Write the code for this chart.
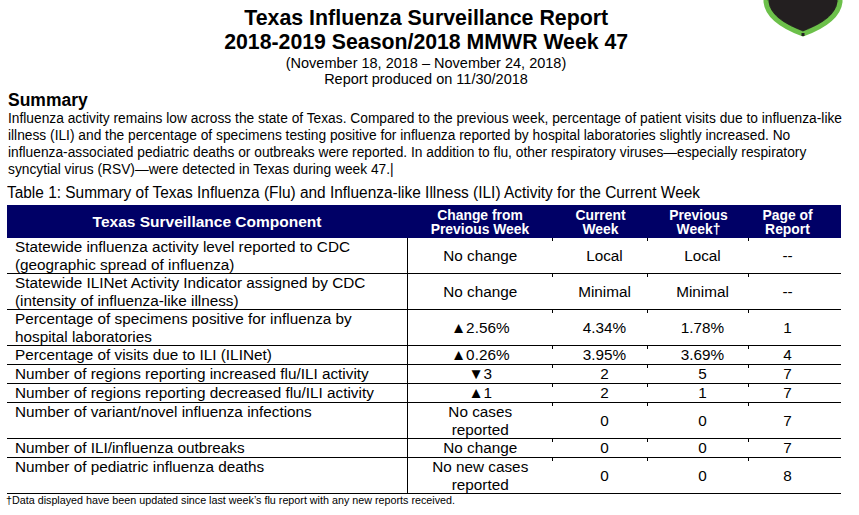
<!DOCTYPE html>
<html>
<head>
<meta charset="utf-8">
<script src="https://cdn.jsdelivr.net/npm/chart.js@4/dist/chart.umd.min.js"></script>
<style>
  html, body { margin: 0; padding: 0; background: #fff; }
  body { width: 859px; height: 515px; overflow: hidden; position: relative;
         font-family: "Liberation Sans", Arial, sans-serif; color: #000; }
  .ln { white-space: nowrap; }
  .ln span { display: inline-block; }
  #head { position: absolute; left: 0; top: 6px; width: 852px; text-align: center; }
  #head .t { font-weight: bold; font-size: 21.5px; line-height: 24px; }
  #head .s { font-size: 14.5px; line-height: 16px; }
  #summary { position: absolute; left: 8px; top: 91px; font-weight: bold; font-size: 17.5px; line-height: 18px; }
  #para { position: absolute; left: 8px; top: 110px; font-size: 14px; line-height: 17px; }
  #caption { position: absolute; left: 7px; top: 184px; font-size: 16px; line-height: 18px; }
  #tbl { position: absolute; left: 7px; top: 205px; border-collapse: collapse; table-layout: fixed; width: 834px; }
  #tbl th { background: #000066; color: #fff; font-weight: bold; font-size: 13.9px; line-height: 14px;
            height: 33px; padding: 0; text-align: center; vertical-align: middle; white-space: pre-line; }
  #tbl th.first { font-size: 15.5px; }
  #tbl th.last, #tbl td.last { padding-right: 15px; }
  #tbl td { font-size: 15.3px; line-height: 17.5px; padding: 0; text-align: center; vertical-align: middle;
            border-bottom: 1px solid #000; white-space: pre-line; position: relative; }
  #tbl td.comp { text-align: left; vertical-align: top; padding-left: 8px; border-right: 1px solid #000; }
  #tbl td.shift { padding-left: 8px; }
  #tbl td.tick::before { content: ""; position: absolute; left: -1px; top: 0; width: 1px; height: 3px; background: #000; }
  #foot { position: absolute; left: 6px; top: 494px; font-size: 11px; line-height: 13px; }
  #logo { position: absolute; left: 762px; top: 0; }
</style>
</head>
<body>
<svg id="logo" width="84" height="38" viewBox="0 0 84 38">
  <path d="M4,-10 L4,2 Q6,21 41,34 Q76,21 78,2 L78,-10 Z" fill="#231f20" stroke="#6cc04a" stroke-width="5"/>
  <path d="M6,0 Q9,19 41,31 Q73,19 76,0" fill="none" stroke="#2f5a1f" stroke-width="0.8" stroke-dasharray="1 5"/>
  <rect x="39.5" y="33" width="3" height="3" fill="#231f20"/>
</svg>

<div id="head">
  <div class="t ln"><span id="title1"></span></div>
  <div class="t ln"><span id="title2"></span></div>
  <div class="s ln" style="margin-top:1px"><span id="dates"></span></div>
  <div class="s ln"><span id="produced"></span></div>
</div>
<div id="summary">Summary</div>
<div id="para"></div>
<div id="caption" class="ln"><span id="captext"></span></div>

<table id="tbl">
  <colgroup>
    <col style="width:400px"><col style="width:146px"><col style="width:95px"><col style="width:101px"><col style="width:92px">
  </colgroup>
  <thead><tr id="hdr"></tr></thead>
  <tbody id="body"></tbody>
</table>
<div id="foot" class="ln"><span id="foottext"></span></div>

<script>
// report text
const titleLines = ['Texas Influenza Surveillance Report', '2018-2019 Season/2018 MMWR Week 47'];
const dateRange = '(November 18, 2018 \u2013 November 24, 2018)';
const producedOn = 'Report produced on 11/30/2018';
const summaryLines = [
  'Influenza activity remains low across the state of Texas. Compared to the previous week, percentage of patient visits due to influenza-like',
  'illness (ILI) and the percentage of specimens testing positive for influenza reported by hospital laboratories slightly increased. No',
  'influenza-associated pediatric deaths or outbreaks were reported. In addition to flu, other respiratory viruses\u2014especially respiratory',
  'syncytial virus (RSV)\u2014were detected in Texas during week 47.|'
];
const tableCaption = 'Table 1: Summary of Texas Influenza (Flu) and Influenza-like Illness (ILI) Activity for the Current Week';
const footnote = '\u2020Data displayed have been updated since last week\u2019s flu report with any new reports received.';

// table columns
const columnHeaders = ['Texas Surveillance Component', 'Change from\nPrevious Week', 'Current\nWeek', 'Previous\nWeek\u2020', 'Page of\nReport'];

// table rows
const components = [
  'Statewide influenza activity level reported to CDC\n(geographic spread of influenza)',
  'Statewide ILINet Activity Indicator assigned by CDC\n(intensity of influenza-like illness)',
  'Percentage of specimens positive for influenza by\nhospital laboratories',
  'Percentage of visits due to ILI (ILINet)',
  'Number of regions reporting increased flu/ILI activity',
  'Number of regions reporting decreased flu/ILI activity',
  'Number of variant/novel influenza infections',
  'Number of ILI/influenza outbreaks',
  'Number of pediatric influenza deaths'
];
const changeFromPrevious = ['No change', 'No change', '\u25B22.56%', '\u25B20.26%', '\u25BC3', '\u25B21',
  'No cases\nreported', 'No change', 'No new cases\nreported'];
const currentWeek = ['Local', 'Minimal', '4.34%', '3.95%', '2', '2', '0', '0', '0'];
const previousWeek = ['Local', 'Minimal', '1.78%', '3.69%', '5', '1', '0', '0', '0'];
const reportPage = ['--', '--', '1', '4', '7', '7', '7', '7', '8'];

const $ = id => document.getElementById(id);
$('title1').textContent = titleLines[0];
$('title2').textContent = titleLines[1];
$('dates').textContent = dateRange;
$('produced').textContent = producedOn;
$('captext').textContent = tableCaption;
$('foottext').textContent = footnote;

const paraSpans = summaryLines.map(line => {
  const div = document.createElement('div');
  div.className = 'ln';
  const span = document.createElement('span');
  span.textContent = line;
  div.appendChild(span);
  $('para').appendChild(div);
  return span;
});

// squeeze a group of lines so the first one gets the width seen in the report
function squeeze(spans, target, origin) {
  const f = target / spans[0].getBoundingClientRect().width;
  spans.forEach(s => {
    s.style.transform = 'scaleX(' + f + ')';
    s.style.transformOrigin = origin;
  });
}
squeeze([$('title1')], 364, 'center');
squeeze([$('title2')], 404, 'center');
squeeze(paraSpans, 834, 'left');
squeeze([$('captext')], 693, 'left');
squeeze([$('foottext')], 449, 'left');

const hdr = $('hdr');
columnHeaders.forEach((h, i) => {
  const th = document.createElement('th');
  if (i === 0) th.className = 'first';
  if (i === columnHeaders.length - 1) th.className = 'last';
  th.textContent = h;
  hdr.appendChild(th);
});

const body = $('body');
components.forEach((c, i) => {
  const tr = document.createElement('tr');
  const cells = [c, changeFromPrevious[i], currentWeek[i], previousWeek[i], reportPage[i]];
  const lines = Math.max(...cells.map(s => s.split('\n').length));
  cells.forEach((v, j) => {
    const td = document.createElement('td');
    if (j === 0) td.className = 'comp';
    else if (j >= 2) td.className = 'tick';
    if (j === 2 || j === 3) td.classList.add('shift');
    if (j === cells.length - 1) td.classList.add('last');
    td.textContent = v;
    td.style.height = (lines > 1 ? 35 : 18) + 'px';
    tr.appendChild(td);
  });
  body.appendChild(tr);
});
</script>
</body>
</html>
